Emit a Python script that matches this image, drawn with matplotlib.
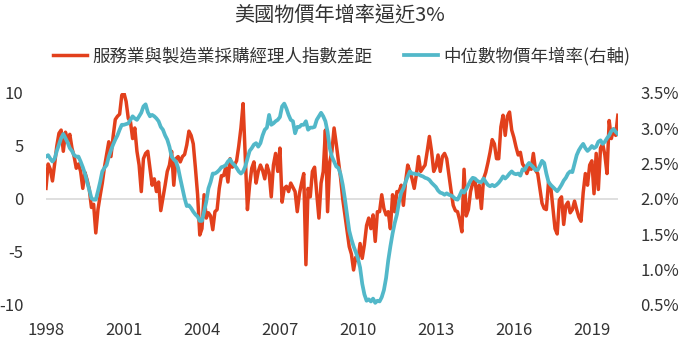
#!/usr/bin/env python3
"""
US services vs manufacturing PMI gap against median CPI inflation, 1998-2020.
"""

import numpy as np
import matplotlib
matplotlib.use("Agg")
import matplotlib.pyplot as plt
from matplotlib.ticker import FuncFormatter

plt.rcParams['font.family'] = ['Noto Sans CJK TC', 'DejaVu Sans']
plt.rcParams['axes.unicode_minus'] = False

START_YEAR = 1998

# Services PMI minus manufacturing PMI, monthly from Jan 1998
pmi_gap = [
    1.0, 3.3, 2.8, 1.7, 3.3, 5.0, 6.2, 6.5, 4.5, 6.3, 5.5, 6.1,          # 1998
    4.8, 4.0, 2.9, 3.3, 2.6, 1.0, 2.5, 1.8, 0.9, -0.8, -0.5, -3.2,       # 1999
    -1.0, 0.3, 1.5, 3.0, 4.2, 5.4, 4.0, 5.9, 7.5, 7.8, 8.0, 9.8,         # 2000
    10.0, 9.2, 7.6, 7.3, 5.7, 6.7, 4.5, 3.2, 0.7, 3.8, 4.3, 4.5,         # 2001
    2.9, 1.3, 1.9, 0.7, 1.6, -1.1, 0.1, 1.3, 2.6, 3.2, 4.5, 1.3,         # 2002
    3.8, 4.0, 3.5, 4.0, 4.2, 5.1, 6.4, 6.0, 5.2, 2.9, 0.4, -3.4,         # 2003
    -2.8, 0.4, -1.8, -1.3, -1.6, -2.9, -1.2, -1.0, 1.0, 2.2, 2.2, 3.0,   # 2004
    1.6, 3.8, 3.0, 3.2, 3.6, 5.0, 6.7, 9.0, 4.0, -1.0, 1.3, 2.9,         # 2005
    3.5, 1.5, 2.6, 3.2, 2.7, 1.9, 3.2, 2.5, 0.2, 3.2, 4.3, 2.6,          # 2006
    4.8, -0.3, 1.0, 1.2, 0.7, 1.5, 1.1, 0.7, -1.2, 0.5, 1.5, 2.4,        # 2007
    -6.2, 1.0, 0.2, 2.6, 3.0, 0.5, -1.8, 1.5, 2.6, 6.5, -1.2, 3.5,       # 2008
    4.5, 6.7, 5.2, 3.6, 2.0, 0.0, -1.5, -3.0, -4.5, -5.2, -6.7, -5.5,    # 2009
    -5.8, -4.2, -5.6, -4.3, -2.5, -1.8, -2.8, -1.5, -4.0, -1.2, -1.2, 0.4,  # 2010
    -0.9, -1.5, -1.2, -2.8, 0.4, -1.2, 0.7, 0.7, 1.3, -0.6, 1.6, 3.2,    # 2011
    2.6, 1.9, 1.0, 2.3, 4.0, 2.6, 2.9, 3.2, 4.5, 5.9, 4.5, 2.6,          # 2012
    3.05, 4.15, 2.6, 4.0, 4.3, 3.8, 2.3, 0.8, -0.6, -1.1, -1.2, -2.0,    # 2013
    -3.1, 2.8, -1.6, -1.0, 0.7, 1.5, 1.9, 0.1, 1.3, -0.9, 1.9, 2.5,      # 2014
    3.4, 4.4, 5.6, 5.2, 3.8, 3.8, 6.8, 7.9, 6.0, 7.8, 8.2, 6.5,          # 2015
    5.8, 4.9, 4.15, 4.4, 3.3, 3.0, 2.4, 3.0, 2.8, 4.3, 2.7, 2.4,         # 2016
    1.0, -0.4, -0.9, -1.0, 1.6, 1.2, -0.8, -2.8, -3.3, -0.1, 0.2, -2.4,  # 2017
    -0.6, -0.3, -1.3, -1.0, -0.2, -1.0, -1.7, -2.1, 0.6, 2.4, 1.3, 3.2,  # 2018
    3.6, 0.5, 4.3, 0.9, 4.8, 5.2, 4.15, 2.4, 7.4, 5.7, 6.6, 6.0,         # 2019
    7.9,                                                                 # 2020
]

# Median CPI, year-over-year %, monthly from Jan 1998
median_cpi = [
    2.60, 2.62, 2.57, 2.53, 2.57, 2.68, 2.77, 2.86, 2.92, 2.86, 2.80, 2.72,  # 1998
    2.68, 2.62, 2.60, 2.60, 2.53, 2.45, 2.36, 2.24, 2.13, 2.01, 1.99, 1.99,  # 1999
    2.11, 2.24, 2.39, 2.44, 2.48, 2.60, 2.69, 2.77, 2.84, 2.90, 2.98, 3.05,  # 2000
    3.05, 3.06, 3.07, 3.12, 3.17, 3.14, 3.12, 3.17, 3.22, 3.31, 3.34, 3.23,  # 2001
    3.17, 3.19, 3.17, 3.14, 3.10, 3.02, 2.98, 2.90, 2.84, 2.74, 2.60, 2.56,  # 2002
    2.53, 2.44, 2.29, 2.15, 2.01, 1.90, 1.91, 1.87, 1.82, 1.78, 1.75, 1.69,  # 2003
    1.69, 1.82, 1.96, 2.15, 2.24, 2.36, 2.36, 2.38, 2.41, 2.45, 2.46, 2.48,  # 2004
    2.53, 2.56, 2.51, 2.48, 2.44, 2.39, 2.36, 2.39, 2.46, 2.57, 2.68, 2.72,  # 2005
    2.77, 2.79, 2.74, 2.79, 2.90, 2.98, 3.01, 3.19, 3.05, 3.07, 3.10, 3.12,  # 2006
    3.16, 3.31, 3.35, 3.28, 3.19, 3.12, 3.10, 2.93, 3.02, 3.02, 3.05, 3.05,  # 2007
    3.10, 2.98, 3.01, 3.01, 3.02, 3.12, 3.17, 3.22, 3.17, 3.10, 2.95, 2.72,  # 2008
    2.60, 2.53, 2.46, 2.44, 2.35, 2.20, 2.00, 1.78, 1.55, 1.43, 1.33, 1.25,  # 2009
    1.16, 1.03, 0.80, 0.65, 0.56, 0.58, 0.55, 0.59, 0.53, 0.56, 0.55, 0.61,  # 2010
    0.71, 0.88, 1.13, 1.33, 1.51, 1.66, 1.78, 1.96, 2.09, 2.15, 2.24, 2.32,  # 2011
    2.39, 2.36, 2.36, 2.35, 2.35, 2.33, 2.32, 2.30, 2.29, 2.27, 2.23, 2.20,  # 2012
    2.17, 2.12, 2.09, 2.08, 2.06, 2.08, 2.06, 2.05, 2.03, 2.00, 1.99, 2.05,  # 2013
    2.12, 2.09, 2.14, 2.20, 2.26, 2.30, 2.29, 2.26, 2.24, 2.24, 2.29, 2.24,  # 2014
    2.20, 2.18, 2.20, 2.18, 2.20, 2.23, 2.27, 2.32, 2.29, 2.32, 2.36, 2.39,  # 2015
    2.36, 2.35, 2.36, 2.33, 2.42, 2.41, 2.47, 2.51, 2.48, 2.45, 2.41, 2.41,  # 2016
    2.47, 2.54, 2.51, 2.36, 2.24, 2.20, 2.17, 2.14, 2.11, 2.15, 2.20, 2.26,  # 2017
    2.30, 2.36, 2.39, 2.38, 2.50, 2.62, 2.69, 2.74, 2.78, 2.72, 2.68, 2.71,  # 2018
    2.75, 2.72, 2.74, 2.81, 2.83, 2.78, 2.81, 2.86, 2.90, 2.96, 2.99, 2.95,  # 2019
    2.92,                                                                    # 2020
]

year_ticks = [1998, 2001, 2004, 2007, 2010, 2013, 2016, 2019]
left_ticks = [-10, -5, 0, 5, 10]
right_ticks = [0.5, 1.0, 1.5, 2.0, 2.5, 3.0, 3.5]

RED = '#e2401c'
TEAL = '#52b8c9'
TEXT = '#333333'


def main():
    t = START_YEAR + np.arange(len(pmi_gap)) / 12

    fig = plt.figure(figsize=(6.8, 3.4), dpi=100)
    ax = fig.add_axes([0.0676, 0.103, 0.841, 0.6235])
    ax2 = ax.twinx()

    ax.axhline(0, color='#d9d9d9', linewidth=1.2, zorder=1)
    l1, = ax.plot(t, pmi_gap, color=RED, linewidth=2.5, zorder=3,
                  label='服務業與製造業採購經理人指數差距')
    l2, = ax2.plot(t, median_cpi, color=TEAL, linewidth=2.7, zorder=3,
                   label='中位數物價年增率(右軸)')

    ax.set_xlim(START_YEAR, t[-1])
    ax.set_ylim(-10, 10)
    ax2.set_ylim(0.5, 3.5)

    ax.set_xticks(year_ticks)
    ax.set_yticks(left_ticks)
    ax2.set_yticks(right_ticks)
    ax2.yaxis.set_major_formatter(FuncFormatter(lambda v, _: f'{v:.1f}%'))

    for a in (ax, ax2):
        for s in a.spines.values():
            s.set_visible(False)
        a.tick_params(length=0, labelsize=12, colors=TEXT)
    ax.tick_params(axis='y', pad=16)
    ax.tick_params(axis='x', pad=12)
    ax2.tick_params(axis='y', pad=16)

    fig.text(0.5, 1 - 15 / 340, '美國物價年增率逼近3%', ha='center', va='center',
             fontsize=14.5, fontweight='medium', color=TEXT)
    fig.legend(handles=[l1, l2], loc='center', bbox_to_anchor=(0.503, 1 - 56 / 340),
               ncol=2, frameon=False, fontsize=12.6, handlelength=1.9,
               handletextpad=0.35, columnspacing=1.8, labelcolor=TEXT)

    fig.savefig('out.png', dpi=100)


if __name__ == '__main__':
    main()
